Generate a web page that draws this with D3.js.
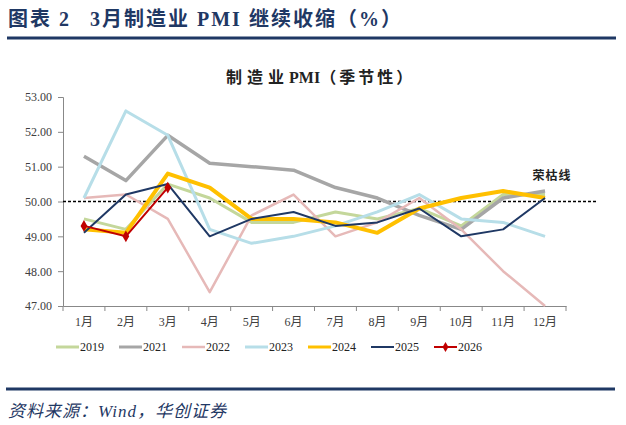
<!DOCTYPE html>
<html>
<head>
<meta charset="utf-8">
<script src="https://cdn.jsdelivr.net/npm/d3@7"></script>
<style>
  body { margin: 0; background: #fff; }
  svg text { font-family: "Liberation Serif", "Noto Sans CJK SC", serif; }
</style>
</head>
<body>
<div id="chart"></div>
<script>
// data
var months = ["1月","2月","3月","4月","5月","6月","7月","8月","9月","10月","11月","12月"];
var yTicks = [47, 48, 49, 50, 51, 52, 53];
var years = ["2019","2021","2022","2023","2024","2025","2026"];
var v2019 = [49.5, 49.2, 50.5, 50.1, 49.4, 49.4, 49.7, 49.5, 49.8, 49.3, 50.2, 50.2];
var v2021 = [51.3, 50.6, 51.9, 51.1, 51.0, 50.9, 50.4, 50.1, 49.6, 49.2, 50.1, 50.3];
var v2022 = [50.1, 50.2, 49.5, 47.4, 49.6, 50.2, 49.0, 49.4, 50.1, 49.2, 48.0, 47.0];
var v2023 = [50.1, 52.6, 51.9, 49.2, 48.8, 49.0, 49.3, 49.7, 50.2, 49.5, 49.4, 49.0];
var v2024 = [49.2, 49.1, 50.8, 50.4, 49.5, 49.5, 49.4, 49.1, 49.8, 50.1, 50.3, 50.1];
var v2025 = [49.1, 50.2, 50.5, 49.0, 49.5, 49.7, 49.3, 49.4, 49.8, 49.0, 49.2, 50.1];
var v2026 = [49.3, 49.0, 50.4];

var series = [
  {key: "2019", values: v2019, color: "#c4d79b", w: 3},
  {key: "2021", values: v2021, color: "#a6a6a6", w: 3.5},
  {key: "2022", values: v2022, color: "#e6b9b8", w: 2.5},
  {key: "2023", values: v2023, color: "#b7dee8", w: 3},
  {key: "2024", values: v2024, color: "#ffc000", w: 4},
  {key: "2025", values: v2025, color: "#1f3864", w: 2},
  {key: "2026", values: v2026, color: "#c00000", w: 2, marker: true}
];

var W = 626, H = 425;
var svg = d3.select("#chart").append("svg")
  .attr("width", W).attr("height", H);

// header
var head = svg.append("text")
  .attr("x", 8).attr("y", 26)
  .style("font-size", "20px").style("font-weight", "bold")
  .style("fill", "#1f3864")
  .style("letter-spacing", "2px");
head.append("tspan").text("图表 2");
head.append("tspan").attr("x", 90).text("3月制造业 PMI 继续收缩（%）");
svg.append("line")
  .attr("x1", 7).attr("x2", 616).attr("y1", 38).attr("y2", 38)
  .attr("stroke", "#1f3864").attr("stroke-width", 3);

// chart title
var ct = svg.append("text")
  .attr("x", 226).attr("y", 83)
  .style("font-size", "16px").style("font-weight", "bold")
  .style("fill", "#222");
ct.append("tspan").style("letter-spacing", "5px").text("制造业");
ct.append("tspan").text("PMI");
ct.append("tspan").style("letter-spacing", "3px").text("（季节性）");

// scales
var x = d3.scaleBand().domain(months).range([63, 566]);
var y = d3.scaleLinear().domain([47, 53]).range([306, 97]);

// y axis
var yAxis = svg.append("g")
  .attr("transform", "translate(63,0)")
  .call(d3.axisLeft(y).tickValues(yTicks).tickSize(5).tickFormat(d3.format(".2f")));
yAxis.selectAll("text").style("font-size", "12px").style("fill", "#404040").attr("dx", "-3");
yAxis.selectAll("line, path").attr("stroke", "#888");

// x axis
var xAxis = svg.append("g")
  .attr("transform", "translate(0,306)")
  .call(d3.axisBottom(x).tickSize(0).tickSizeOuter(0));
xAxis.select("path").attr("stroke", "#888");
xAxis.selectAll("text").style("font-size", "12px").style("fill", "#404040").attr("dy", "1.4em");
// tick marks between months
svg.append("g").selectAll("line")
  .data(months.concat(["end"]))
  .enter().append("line")
    .attr("x1", function(d, i) { return 63 + i * x.step(); })
    .attr("x2", function(d, i) { return 63 + i * x.step(); })
    .attr("y1", 306).attr("y2", 311)
    .attr("stroke", "#888");

// boom-bust line
svg.append("line")
  .attr("x1", 63).attr("x2", 598)
  .attr("y1", y(50)).attr("y2", y(50))
  .attr("stroke", "#000").attr("stroke-width", 1.3)
  .attr("stroke-dasharray", "3,2");
svg.append("text")
  .attr("x", 552).attr("y", 180)
  .attr("text-anchor", "middle")
  .style("font-size", "12px").style("font-weight", "bold")
  .style("fill", "#222")
  .style("letter-spacing", "1px")
  .text("荣枯线");

// lines
var line = d3.line()
  .x(function(d, i) { return x(months[i]) + x.bandwidth() / 2; })
  .y(function(d) { return y(d); });

series.forEach(function(s) {
  svg.append("path")
    .datum(s.values)
    .attr("fill", "none")
    .attr("stroke", s.color)
    .attr("stroke-width", s.w)
    .attr("stroke-linejoin", "round")
    .attr("d", line);
  if (s.marker) {
    svg.append("g").selectAll("path")
      .data(s.values)
      .enter().append("path")
        .attr("d", d3.symbol().type(d3.symbolDiamond).size(40))
        .attr("transform", function(d, i) {
          return "translate(" + (x(months[i]) + x.bandwidth() / 2) + "," + y(d) + ")";
        })
        .attr("fill", s.color);
  }
});

// legend
var legend = svg.append("g").selectAll("g")
  .data(series)
  .enter().append("g")
    .attr("transform", function(d, i) { return "translate(" + (56 + i * 63) + ",347)"; });
legend.append("line")
  .attr("x1", 0).attr("x2", 23).attr("y1", 0).attr("y2", 0)
  .attr("stroke", function(d) { return d.color; })
  .attr("stroke-width", function(d) { return Math.min(d.w, 3); });
legend.filter(function(d) { return d.marker; }).append("path")
  .attr("d", d3.symbol().type(d3.symbolDiamond).size(30))
  .attr("transform", "translate(11.5,0)")
  .attr("fill", function(d) { return d.color; });
legend.append("text")
  .attr("x", 24).attr("y", 4)
  .style("font-size", "12px").style("fill", "#222")
  .text(function(d) { return d.key; });

// footer
svg.append("line")
  .attr("x1", 6).attr("x2", 615).attr("y1", 389).attr("y2", 389)
  .attr("stroke", "#1f3864").attr("stroke-width", 3);
svg.append("text")
  .attr("x", 8).attr("y", 417)
  .style("font-size", "17px").style("font-style", "italic")
  .style("fill", "#1f3864")
  .style("letter-spacing", "1px")
  .text("资料来源：Wind，华创证券");
</script>
</body>
</html>
